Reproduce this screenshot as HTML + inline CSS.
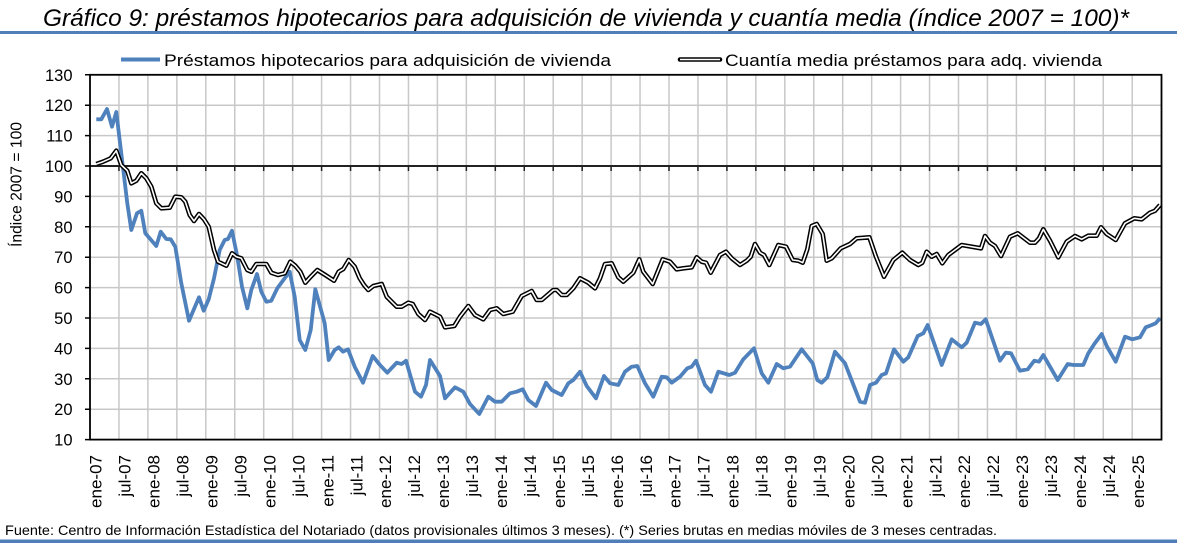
<!DOCTYPE html>
<html><head><meta charset="utf-8"><style>
html,body{margin:0;padding:0;background:#fff;}
svg{display:block;}
text{font-family:"Liberation Sans",Arial,sans-serif;fill:#000;}
</style></head><body>
<svg width="1177" height="543" viewBox="0 0 1177 543" xmlns="http://www.w3.org/2000/svg" xmlns:xlink="http://www.w3.org/1999/xlink">
<defs>
<polyline id="bk" points="96.3,164 103,161.7 110.7,158.3 116.3,150.7 121.3,165 127.3,170.7 131.3,183.3 136.3,180.7 141.3,173.3 146.3,178.3 151.3,186.7 156.3,203.3 161.3,208.3 169.7,207.7 175.3,196.7 181.3,197.3 185.3,201.7 189.7,215 194,221 199,214 204,219.3 208.7,226.7 214,250 218,261.7 226.3,265.7 232,253.3 236.3,256.7 241.3,258.3 247.3,270 251.3,271.7 256.3,264 266.3,264 271.3,272.7 278,275 284.7,273.3 290.3,261.7 295.3,265.7 300.3,271.7 305.3,282.7 310.7,276.7 317.3,270 325.3,275 334,280.7 338.7,271.7 343.3,269 348.7,260 354.7,266.7 359.7,278.3 364,285 368.3,290 373.3,286 381.7,284 386.7,296.7 396.7,306.7 401.7,306.7 408.3,302.7 412.7,304 418.3,314 425,320 430,311.7 440,316.7 445,327.3 454.3,326 460,316.7 468.3,306 475,315 483.3,319.3 490,310 496.7,308.3 503.3,314 512.7,311.7 521.7,296 531.7,291 536.7,300 541.7,300 553.3,290 556.7,290 561.7,295 566.7,295 573.3,288.3 580,278.3 588.3,282.7 595,288.3 600,278.3 605,264 611.7,263.3 618.3,277.3 623.3,281.7 633.3,272.7 639.3,259.3 643.3,271.7 652.7,284 662.7,259.3 670,261.7 676.7,269.3 683.3,268.3 691.7,267.3 696.7,257.3 701.7,261.7 706,262.7 710.7,272.7 720,255 726,251.7 731.7,258.3 740,265 746.7,260.7 750.7,256.7 755,244 760,252.7 764,255 769.3,265 778.3,245 786,246.7 792.7,260 798.3,260.7 802.7,262.7 807.3,249.3 811.7,226 816.7,224 822.7,234 826.7,260.7 831.7,258.3 840.7,248.3 850,244 856.7,238.3 869.3,237.3 876,256.7 884,276.7 893.3,260 902.3,252.7 910,260 918.3,265 922.3,262.7 926.7,251.7 931.7,256.7 936.7,254 942.3,263.3 948.3,255 961.7,245 981,248.3 985,236 990,242.7 995,246 1001,256 1010,236.7 1017.7,233.3 1030,242.7 1035,242.7 1039,238.3 1043.3,229.3 1050,240.7 1058.3,257.3 1066.7,241.7 1075,236 1081.7,239.3 1088.3,235.7 1096.7,235.7 1101,227.3 1106.7,234 1115.7,240 1125,223.3 1134.3,218.3 1141.7,219.3 1150,212.7 1155,210.7 1160,205"/>
</defs>
<rect x="0" y="0" width="1177" height="543" fill="#fff"/>
<!-- title -->
<text x="43" y="26" font-size="24" font-style="italic" textLength="1086" lengthAdjust="spacingAndGlyphs" fill="#111">Gráfico 9: préstamos hipotecarios para adquisición de vivienda y cuantía media (índice 2007 = 100)*</text>
<rect x="0" y="31" width="1177" height="3" fill="#4F7EB8"/>
<rect x="0" y="539.5" width="1177" height="3.5" fill="#4F7EB8"/>

<!-- legend -->
<line x1="121" y1="59.5" x2="160" y2="59.5" stroke="#4F81BD" stroke-width="4"/>
<text x="164" y="66" font-size="17" textLength="447" lengthAdjust="spacingAndGlyphs">Préstamos hipotecarios para adquisición de vivienda</text>
<line x1="680" y1="59.5" x2="720" y2="59.5" stroke="#000" stroke-width="4.6" stroke-linecap="round"/>
<line x1="680" y1="59.5" x2="720" y2="59.5" stroke="#fff" stroke-width="1.6"/>
<text x="725" y="66" font-size="17" textLength="377" lengthAdjust="spacingAndGlyphs">Cuantía media préstamos para adq. vivienda</text>

<!-- gridlines -->
<g stroke="#C8C8C8" stroke-width="1.5">
<line x1="90" y1="105.2" x2="1161" y2="105.2"/>
<line x1="90" y1="135.6" x2="1161" y2="135.6"/>
<line x1="90" y1="196.4" x2="1161" y2="196.4"/>
<line x1="90" y1="226.8" x2="1161" y2="226.8"/>
<line x1="90" y1="257.2" x2="1161" y2="257.2"/>
<line x1="90" y1="287.6" x2="1161" y2="287.6"/>
<line x1="90" y1="318" x2="1161" y2="318"/>
<line x1="90" y1="348.4" x2="1161" y2="348.4"/>
<line x1="90" y1="378.8" x2="1161" y2="378.8"/>
<line x1="90" y1="409.2" x2="1161" y2="409.2"/>
<path d="M118.95 75V439M147.9 75V439M176.85 75V439M205.8 75V439M234.75 75V439M263.7 75V439M292.65 75V439M321.6 75V439M350.55 75V439M379.5 75V439M408.45 75V439M437.4 75V439M466.35 75V439M495.3 75V439M524.25 75V439M553.2 75V439M582.15 75V439M611.1 75V439M640.05 75V439M669 75V439M697.95 75V439M726.9 75V439M755.85 75V439M784.8 75V439M813.75 75V439M842.7 75V439M871.65 75V439M900.6 75V439M929.55 75V439M958.5 75V439M987.45 75V439M1016.4 75V439M1045.35 75V439M1074.3 75V439M1103.25 75V439M1132.2 75V439" fill="none"/>
</g>

<!-- axis at 100 with ticks -->
<line x1="90" y1="166" x2="1161" y2="166" stroke="#222" stroke-width="2"/>
<path d="M118.95 166v5M147.9 166v5M176.85 166v5M205.8 166v5M234.75 166v5M263.7 166v5M292.65 166v5M321.6 166v5M350.55 166v5M379.5 166v5M408.45 166v5M437.4 166v5M466.35 166v5M495.3 166v5M524.25 166v5M553.2 166v5M582.15 166v5M611.1 166v5M640.05 166v5M669 166v5M697.95 166v5M726.9 166v5M755.85 166v5M784.8 166v5M813.75 166v5M842.7 166v5M871.65 166v5M900.6 166v5M929.55 166v5M958.5 166v5M987.45 166v5M1016.4 166v5M1045.35 166v5M1074.3 166v5M1103.25 166v5M1132.2 166v5" stroke="#222" stroke-width="1.5" fill="none"/>

<!-- series: blue -->
<polyline fill="none" stroke="#4F81BD" stroke-width="3.8" stroke-linejoin="round" points="96.3,119.3 101.3,119.3 107,109 112,126.7 116.3,112 127.3,203.3 131.3,230 137,213.3 141.3,210.7 145.3,233.3 156.3,246 160.7,231.7 166.3,239 170.7,239.3 175.3,246.7 181.3,283.3 189,320.7 199,297.3 203.7,310.7 208.7,299.3 214,278.3 219.7,250 224.7,240 228,239 232,230.7 237.3,256.7 242,286.7 247.3,308.3 251.3,290 257,274 261.3,291.7 266.3,301.7 271.3,300.7 277.3,288.3 284.7,278.3 289.7,271.7 294.7,296.7 299.7,340 305.3,350 310.7,330 315.3,289.3 324.7,323.3 328.7,360 334.7,350 338.7,347.3 343,351.7 348,349.3 354.7,366.7 363,382.7 372.7,356 380,365 387.3,372.7 396.7,362.7 401.7,364 406,360.7 415,391.7 421,396.7 426,385 430,360 440,376 445,398.3 455,387.3 463.3,391.7 470,404 479.3,414 488.3,396.7 495,401.7 501.7,401.7 510,393.3 516.7,391.7 522.7,389.3 528.3,400 536,406 546,382.7 551.7,390 561.7,395 568.3,383.3 573.3,380 580,371.7 586.7,386 596,398.3 604,376 610,383.3 618.3,385 625,371.7 631.7,366.7 637.3,366 645,383.3 653.3,396.7 661.7,376.7 666.7,377.3 671.7,382.7 680,376.7 687.3,368.3 691.7,366.7 696,360.7 705,385 711,391.7 718.3,371.7 729.3,375 735,372.7 743.3,359.3 754,348.3 761.7,373.3 768.3,382.7 776.7,364 783.3,368.3 790,366.7 801.7,349.3 812.7,363.3 817.3,380 821.7,382.7 827.3,377.3 835,351.7 845,363.3 860,401.7 865,402.7 870,385 876,382.7 881.7,375 886,373.3 894,349.3 903.3,361.7 908.3,357.3 917.7,336 923.3,333.3 927.7,325 941.7,365 951.7,339.3 961.7,347.3 966.7,342.7 975,322.7 981,324 985.7,319.3 1000,360.7 1005.7,352.7 1011,353.3 1020,370.7 1027.7,369.3 1034.3,360.7 1039,361.7 1043.3,355 1057.7,380 1067.7,364 1073.3,365 1083.3,365 1088.3,353.3 1094.3,344 1101.7,334 1106.7,346 1115.7,361.7 1125,336.7 1132.3,339.3 1140,337.3 1145.7,327.3 1151.7,325 1155.7,323.3 1160,318.3"/>

<!-- series: black double line -->
<use href="#bk" xlink:href="#bk" fill="none" stroke="#000" stroke-width="4.6" stroke-linejoin="round"/>
<use href="#bk" xlink:href="#bk" fill="none" stroke="#fff" stroke-width="1.6" stroke-linejoin="round"/>

<!-- plot frame -->
<rect x="90" y="74.8" width="1071.5" height="364.8" fill="none" stroke="#000" stroke-width="1.8"/>
<!-- left ticks -->
<path d="M85 74.8H90M85 105.2H90M85 135.6H90M85 166H90M85 196.4H90M85 226.8H90M85 257.2H90M85 287.6H90M85 318H90M85 348.4H90M85 378.8H90M85 409.2H90M85 439.6H90" stroke="#000" stroke-width="1.5"/>

<!-- y labels -->
<g font-size="16.5" text-anchor="end">
<text x="72.5" y="80.8">130</text>
<text x="72.5" y="111.2">120</text>
<text x="72.5" y="141.6">110</text>
<text x="72.5" y="172">100</text>
<text x="72.5" y="202.4">90</text>
<text x="72.5" y="232.8">80</text>
<text x="72.5" y="263.2">70</text>
<text x="72.5" y="293.6">60</text>
<text x="72.5" y="324">50</text>
<text x="72.5" y="354.4">40</text>
<text x="72.5" y="384.8">30</text>
<text x="72.5" y="415.2">20</text>
<text x="72.5" y="445.6">10</text>
</g>
<text transform="translate(21.5,184.5) rotate(-90)" font-size="15.5" text-anchor="middle" textLength="125" lengthAdjust="spacingAndGlyphs">Índice 2007 = 100</text>

<!-- x labels -->
<g font-size="17" text-anchor="end">
<text transform="translate(101.7,455) rotate(-90)">ene-07</text>
<text transform="translate(130.65,455) rotate(-90)">jul-07</text>
<text transform="translate(159.6,455) rotate(-90)">ene-08</text>
<text transform="translate(188.55,455) rotate(-90)">jul-08</text>
<text transform="translate(217.5,455) rotate(-90)">ene-09</text>
<text transform="translate(246.45,455) rotate(-90)">jul-09</text>
<text transform="translate(275.4,455) rotate(-90)">ene-10</text>
<text transform="translate(304.35,455) rotate(-90)">jul-10</text>
<text transform="translate(333.3,455) rotate(-90)">ene-11</text>
<text transform="translate(362.25,455) rotate(-90)">jul-11</text>
<text transform="translate(391.2,455) rotate(-90)">ene-12</text>
<text transform="translate(420.15,455) rotate(-90)">jul-12</text>
<text transform="translate(449.1,455) rotate(-90)">ene-13</text>
<text transform="translate(478.05,455) rotate(-90)">jul-13</text>
<text transform="translate(507,455) rotate(-90)">ene-14</text>
<text transform="translate(535.95,455) rotate(-90)">jul-14</text>
<text transform="translate(564.9,455) rotate(-90)">ene-15</text>
<text transform="translate(593.85,455) rotate(-90)">jul-15</text>
<text transform="translate(622.8,455) rotate(-90)">ene-16</text>
<text transform="translate(651.75,455) rotate(-90)">jul-16</text>
<text transform="translate(680.7,455) rotate(-90)">ene-17</text>
<text transform="translate(709.65,455) rotate(-90)">jul-17</text>
<text transform="translate(738.6,455) rotate(-90)">ene-18</text>
<text transform="translate(767.55,455) rotate(-90)">jul-18</text>
<text transform="translate(796.5,455) rotate(-90)">ene-19</text>
<text transform="translate(825.45,455) rotate(-90)">jul-19</text>
<text transform="translate(854.4,455) rotate(-90)">ene-20</text>
<text transform="translate(883.35,455) rotate(-90)">jul-20</text>
<text transform="translate(912.3,455) rotate(-90)">ene-21</text>
<text transform="translate(941.25,455) rotate(-90)">jul-21</text>
<text transform="translate(970.2,455) rotate(-90)">ene-22</text>
<text transform="translate(999.15,455) rotate(-90)">jul-22</text>
<text transform="translate(1028.1,455) rotate(-90)">ene-23</text>
<text transform="translate(1057.05,455) rotate(-90)">jul-23</text>
<text transform="translate(1086,455) rotate(-90)">ene-24</text>
<text transform="translate(1114.95,455) rotate(-90)">jul-24</text>
<text transform="translate(1143.9,455) rotate(-90)">ene-25</text>
</g>

<!-- footnote -->
<text x="5" y="535" font-size="14" textLength="992" lengthAdjust="spacingAndGlyphs">Fuente: Centro de Información Estadística del Notariado (datos provisionales últimos 3 meses). (*) Series brutas en medias móviles de 3 meses centradas.</text>
</svg>
</body></html>
